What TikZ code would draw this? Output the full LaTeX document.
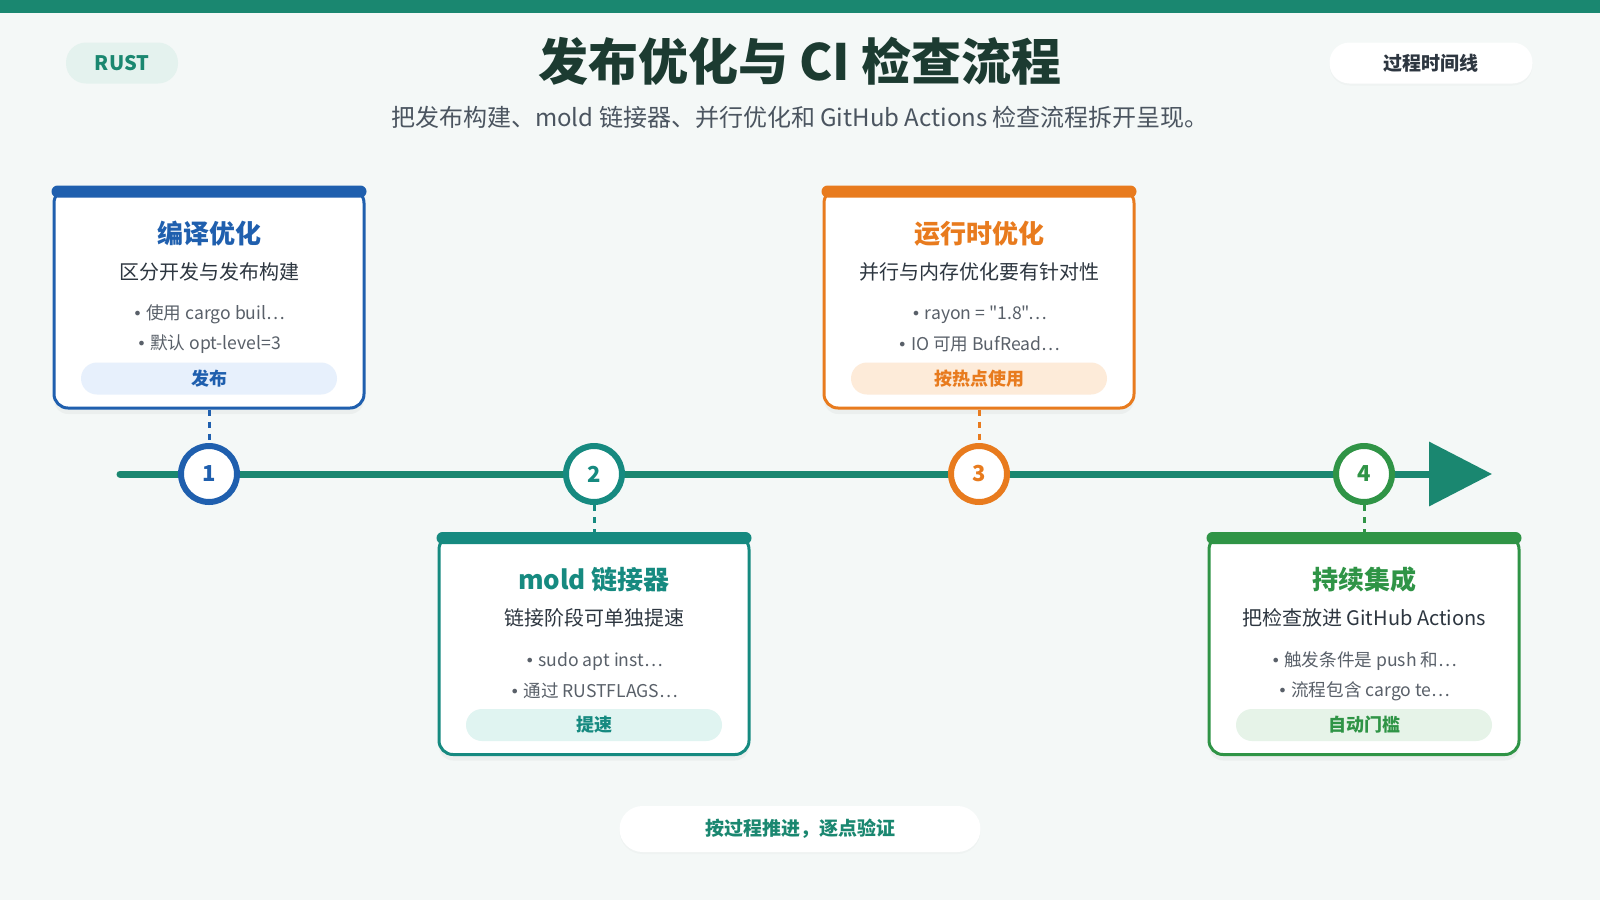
\documentclass[tikz,border=0pt]{standalone}
\usepackage{fontspec}
\defaultfontfeatures[\rmfamily]{}
\setmainfont{Noto Sans CJK SC}
\newfontfamily\symfont{DejaVu Sans}
\usetikzlibrary{arrows.meta, positioning, calc, shadows}
\definecolor{tlteal}{HTML}{1A8770}
\definecolor{bgpale}{HTML}{F4F8F7}
\definecolor{titink}{HTML}{1C3B31}
\definecolor{subink}{HTML}{4B5560}
\definecolor{darkink}{HTML}{2D3640}
\definecolor{bodyink}{HTML}{596069}
\definecolor{cblue}{HTML}{1F5FAE}
\definecolor{cteal}{HTML}{168A80}
\definecolor{corange}{HTML}{E87B1E}
\definecolor{cgreen}{HTML}{2F9446}
\definecolor{lblue}{HTML}{E7F0FC}
\definecolor{lteal}{HTML}{E0F4F1}
\definecolor{lorange}{HTML}{FDEBD9}
\definecolor{lgreen}{HTML}{E6F3E8}
\definecolor{rustfill}{HTML}{E4F2EE}
\newcommand{\dotmark}{{\symfont\fontsize{8}{10}\selectfont •}}
\tikzset{
  card/.style={draw=#1, line width=1.5pt, fill=white, rounded corners=7pt, minimum width=155pt, minimum height=109.5pt,
    drop shadow={shadow xshift=0pt, shadow yshift=-3pt, opacity=0.07}},
  cardtitle/.style={font=\fontsize{13}{15}\selectfont\bfseries, text=#1},
  cardsub/.style={font=\fontsize{10}{12}\selectfont, text=darkink},
  bullet/.style={font=\fontsize{8.8}{11}\selectfont, text=bodyink},
  tag/.style={fill=#1, rounded corners=8pt, minimum width=128pt, minimum height=16pt, inner sep=0pt, font=\fontsize{9}{11}\selectfont\bfseries},
  stepdot/.style={circle, draw=#1, line width=3pt, fill=white, minimum size=28pt, inner sep=0pt, font=\fontsize{11}{13}\selectfont\bfseries, text=#1},
  link/.style={draw=#1, line width=1.5pt, dash pattern=on 3pt off 3pt},
  pill/.style={rounded corners=10pt, minimum height=20.5pt, inner sep=0pt},
}
\begin{document}
\begin{tikzpicture}[x=0.5pt, y=-0.5pt]
  \fill[bgpale] (0,0) rectangle (1600,900);
  \useasboundingbox (0,0) rectangle (1600,900);
  \fill[tlteal] (0,0) rectangle (1600,13);

  % header
  \node[pill, fill=rustfill, minimum width=56pt, text=tlteal, font=\fontsize{10}{12}\selectfont\bfseries] (rust) at (122,63) {RUST};
  \node[pill, fill=white, minimum width=101.5pt, text=darkink, font=\fontsize{9.5}{11}\selectfont\bfseries,
    drop shadow={shadow xshift=0pt, shadow yshift=-1pt, opacity=0.04}] (timeline) at (1431,63) {过程时间线};
  \node[font=\fontsize{25}{30}\selectfont\bfseries, text=titink] (title) at (800,61) {发布优化与 CI 检查流程};
  \node[font=\fontsize{12}{14}\selectfont, text=subink] (subtitle) at (800,117) {把发布构建、mold 链接器、并行优化和 GitHub Actions 检查流程拆开呈现。};

  % timeline
  \coordinate (tstart) at (120,474);
  \coordinate (tend) at (1492,474);
  \draw[tlteal, line width=3.5pt, line cap=round, -{Triangle[length=31.5pt, width=31.5pt]}] (tstart) -- (tend);

  % cards
  \node[card=cblue] (c1) at (209,298.5) {};
  \node[card=cteal] (c2) at (594,645) {};
  \node[card=corange] (c3) at (979,298.5) {};
  \node[card=cgreen] (c4) at (1364,645) {};
  \foreach \c/\col in {c1/cblue, c2/cteal, c3/corange, c4/cgreen}
    \fill[\col, rounded corners=3pt] ($(\c.north west)+(-1,-2)$) rectangle ($(\c.north east)+(1,10)$);

  \node[cardtitle=cblue] (t1) at ($(c1.north)+(0,46)$) {编译优化};
  \node[cardsub] (s1) at ($(c1.north)+(0,84)$) {区分开发与发布构建};
  \node[bullet] (b11) at ($(c1.north)+(0,127)$) {\dotmark{} 使用 cargo buil…};
  \node[bullet] (b12) at ($(c1.north)+(0,157)$) {\dotmark{} 默认 opt-level=3};
  \node[tag=lblue, text=cblue] (g1) at ($(c1.north)+(0,191)$) {发布};

  \node[cardtitle=cteal] (t2) at ($(c2.north)+(0,46)$) {mold 链接器};
  \node[cardsub] (s2) at ($(c2.north)+(0,84)$) {链接阶段可单独提速};
  \node[bullet] (b21) at ($(c2.north)+(0,127)$) {\dotmark{} sudo apt inst…};
  \node[bullet] (b22) at ($(c2.north)+(0,157)$) {\dotmark{} 通过 RUSTFLAGS…};
  \node[tag=lteal, text=cteal] (g2) at ($(c2.north)+(0,191)$) {提速};

  \node[cardtitle=corange] (t3) at ($(c3.north)+(0,46)$) {运行时优化};
  \node[cardsub] (s3) at ($(c3.north)+(0,84)$) {并行与内存优化要有针对性};
  \node[bullet] (b31) at ($(c3.north)+(0,127)$) {\dotmark{} rayon = "1.8"…};
  \node[bullet] (b32) at ($(c3.north)+(0,157)$) {\dotmark{} IO 可用 BufRead…};
  \node[tag=lorange, text=corange] (g3) at ($(c3.north)+(0,191)$) {按热点使用};

  \node[cardtitle=cgreen] (t4) at ($(c4.north)+(0,46)$) {持续集成};
  \node[cardsub] (s4) at ($(c4.north)+(0,84)$) {把检查放进 GitHub Actions};
  \node[bullet] (b41) at ($(c4.north)+(0,127)$) {\dotmark{} 触发条件是 push 和…};
  \node[bullet] (b42) at ($(c4.north)+(0,157)$) {\dotmark{} 流程包含 cargo te…};
  \node[tag=lgreen, text=cgreen] (g4) at ($(c4.north)+(0,191)$) {自动门槛};

  % steps
  \node[stepdot=cblue] (n1) at (209,474) {1};
  \node[stepdot=cteal] (n2) at (594,474) {2};
  \node[stepdot=corange] (n3) at (979,474) {3};
  \node[stepdot=cgreen] (n4) at (1364,474) {4};
  \draw[link=cblue] (c1.south) -- (n1.north);
  \draw[link=cteal] (n2.south) -- (c2.north);
  \draw[link=corange] (c3.south) -- (n3.north);
  \draw[link=cgreen] (n4.south) -- (c4.north);

  % footer
  \node[pill, fill=white, minimum width=180.5pt, minimum height=23pt, rounded corners=11.5pt, text=tlteal, font=\fontsize{9.5}{11}\selectfont\bfseries,
    drop shadow={shadow xshift=0pt, shadow yshift=-1pt, opacity=0.04}] (motto) at (800,829) {按过程推进，逐点验证};
\end{tikzpicture}
\end{document}
